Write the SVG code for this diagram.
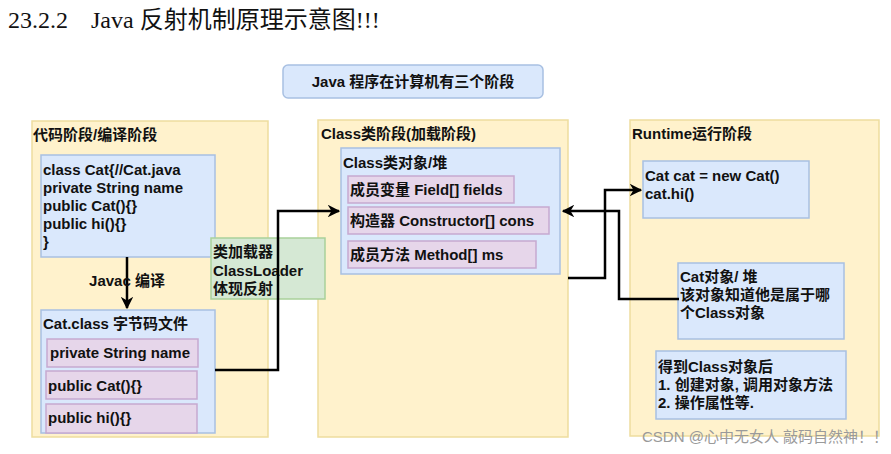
<svg xmlns="http://www.w3.org/2000/svg" width="891" height="454" viewBox="0 0 891 454">
<defs>
<marker id="arr" viewBox="0 0 10 10" refX="9" refY="5" markerWidth="5" markerHeight="5" orient="auto" markerUnits="strokeWidth">
<path d="M0,0 L10,5 L0,10 L3,5 Z" fill="#000"/>
</marker>
<style>
.t{font-family:"Liberation Sans","Noto Sans CJK SC",sans-serif;font-weight:bold;font-size:15px;fill:#111}
.panel{fill:#fff2cc;stroke:#eedd9e;stroke-width:1.5}
.blue{fill:#dae8fc;stroke:#a8c0e2;stroke-width:1.5}
.pink{fill:#e6d6ea;stroke:#c6a9d0;stroke-width:1.5}
.green{fill:#d5e8d4;stroke:#a9d19a;stroke-width:1.5}
.edge{fill:none;stroke:#000;stroke-width:2.5}
</style>
</defs>
<rect width="891" height="454" fill="#fff"/>
<g id="title">
<text x="8" y="28" font-family="Liberation Serif,'Noto Sans CJK SC',serif" font-size="24" fill="#111">23.2.2</text>
<text x="91" y="28" font-family="Liberation Serif,'Noto Sans CJK SC',serif" font-size="24" fill="#111">Java 反射机制原理示意图!!!</text>
</g>
<g id="header">
<rect x="283" y="65" width="260" height="33" rx="5" class="blue"/>
<text x="413" y="87" class="t" font-size="14.5" text-anchor="middle">Java 程序在计算机有三个阶段</text>
</g>
<g id="panel-compile">
<rect x="32" y="121" width="236" height="316" class="panel"/>
<text x="33" y="140" class="t">代码阶段/编译阶段</text>
</g>
<g id="source">
<rect x="41" y="155" width="174" height="102" class="blue"/>
<text class="t"><tspan x="43" y="175">class Cat{//Cat.java</tspan><tspan x="43" y="193">private String name</tspan><tspan x="43" y="211">public Cat(){}</tspan><tspan x="43" y="229">public hi(){}</tspan><tspan x="43" y="247">}</tspan></text>
</g>
<g id="bytecode">
<rect x="41" y="310" width="174" height="123" class="blue"/>
<text x="43" y="329" class="t">Cat.class 字节码文件</text>
<rect x="47" y="339" width="151" height="28" class="pink"/>
<text x="50" y="358" class="t">private String name</text>
<rect x="46" y="371" width="151" height="28" class="pink"/>
<text x="48" y="391" class="t">public Cat(){}</text>
<rect x="46" y="404" width="151" height="29" class="pink"/>
<text x="48" y="423" class="t">public hi(){}</text>
</g>
<g id="panel-load">
<rect x="318" y="120" width="250" height="317" class="panel"/>
<text x="321" y="139" class="t">Class类阶段(加载阶段)</text>
</g>
<g id="class-object">
<rect x="341" y="148" width="219" height="126" class="blue"/>
<text x="343" y="168" class="t">Class类对象/堆</text>
<rect x="348" y="176" width="166" height="27" class="pink"/>
<text x="350" y="195" class="t">成员变量 Field[] fields</text>
<rect x="348" y="207" width="201" height="27" class="pink"/>
<text x="350" y="226" class="t">构造器 Constructor[] cons</text>
<rect x="348" y="241" width="188" height="27" class="pink"/>
<text x="350" y="260" class="t">成员方法 Method[] ms</text>
</g>
<g id="panel-runtime">
<rect x="630" y="120" width="249" height="316" class="panel"/>
<text x="632" y="139" class="t">Runtime运行阶段</text>
</g>
<g id="runtime-code">
<rect x="643" y="161" width="166" height="57" class="blue"/>
<text class="t"><tspan x="645" y="181">Cat cat = new Cat()</tspan><tspan x="645" y="199">cat.hi()</tspan></text>
</g>
<g id="cat-object">
<rect x="678" y="263" width="166" height="76" class="blue"/>
<text class="t"><tspan x="680" y="282">Cat对象/ 堆</tspan><tspan x="680" y="300">该对象知道他是属于哪</tspan><tspan x="680" y="318">个Class对象</tspan></text>
</g>
<g id="usage">
<rect x="656" y="351" width="190" height="68" class="blue"/>
<text class="t"><tspan x="658" y="372">得到Class对象后</tspan><tspan x="658" y="390">1. 创建对象, 调用对象方法</tspan><tspan x="658" y="408">2. 操作属性等.</tspan></text>
</g>
<g id="classloader">
<rect x="211" y="238" width="114" height="61" class="green"/>
<text class="t"><tspan x="213" y="257">类加载器</tspan><tspan x="213" y="276">ClassLoader</tspan><tspan x="213" y="294">体现反射</tspan></text>
</g>
<g id="connectors">
<path class="edge" d="M127,257 L127,308" marker-end="url(#arr)"/>
<text x="127" y="286" class="t" text-anchor="middle">Javac 编译</text>
<path class="edge" d="M215,370 L278,370 L278,211 L339,211" marker-end="url(#arr)"/>
<path class="edge" d="M568,278 L605,278 L605,190 L641,190" marker-end="url(#arr)"/>
<path class="edge" d="M679,299 L619,299 L619,211 L563,211" marker-end="url(#arr)"/>
</g>
<text x="642" y="442" font-family="Liberation Sans,'Noto Sans CJK SC',sans-serif" font-size="15" fill="#9a9a9a">CSDN @心中无女人 敲码自然神！！</text>
</svg>
